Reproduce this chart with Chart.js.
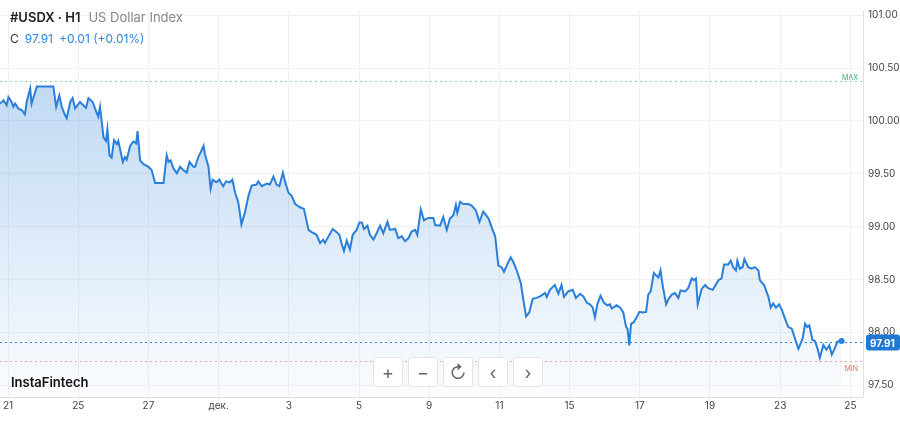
<!DOCTYPE html>
<html><head><meta charset="utf-8">
<script src="https://cdn.jsdelivr.net/npm/chart.js@4"></script>
<style>
html,body{margin:0;padding:0;background:#fff;font-family:Inter,"Noto Sans",sans-serif;}
#wrap{position:relative;width:900px;height:427px;}
.hdr{position:absolute;left:10px;top:9px;font-size:13px;color:#222;}
.hdr b{font-weight:600}
.hdr span{color:#888;margin-left:8px}
.sub{position:absolute;left:10px;top:31px;font-size:12px;color:#333}
.sub span{color:#2f86e0;margin-left:6px}
.brand{position:absolute;left:11px;top:374px;font-size:13px;font-weight:600;color:#111}
.tb{position:absolute;top:357px;left:373px;display:flex;gap:5px}
.tb div{width:30px;height:30px;border:1px solid #e4e4e4;border-radius:3px;background:#fff;color:#666;font-size:18px;display:flex;align-items:center;justify-content:center;box-sizing:border-box}
</style></head><body>
<div id="wrap"><canvas id="c" width="900" height="427"></canvas>
<div class="hdr"><b>#USDX · H1</b><span>US Dollar Index</span></div>
<div class="sub">C<span>97.91</span><span>+0.01 (+0.01%)</span></div>
<div class="brand">InstaFintech</div>
<div class="tb"><div>+</div><div>−</div><div>↻</div><div>‹</div><div>›</div></div>
</div>
<script>
const tickLabels=['21','25','27','дек.','3','5','9','11','15','17','19','23','25'];
const dayPos=[-0.23,-0.13,-0.04,0.01,0.10,0.15,0.20,0.29,0.39,0.48,0.53,0.63,0.67,0.82,1.29,1.37,1.46,1.53,1.62,1.67,1.77,1.84,1.91,2.05,2.22,2.29,2.41,2.53,2.57,2.62,2.72,2.79,2.83,2.89,2.95,3.02,3.10,3.14,3.27,3.33,3.38,3.48,3.57,3.65,3.69,3.76,3.86,4.00,4.09,4.19,4.43,4.52,4.57,4.63,4.71,4.81,4.90,4.99,5.09,5.17,5.28,5.33,5.42,5.49,5.57,5.61,5.71,5.77,5.83,5.93,6.02,6.07,6.13,6.21,6.32,6.39,6.47,6.56,6.65,6.75,6.85,6.94,7.08,7.13,7.23,7.37,7.46,7.56,7.65,7.73,7.83,7.89,7.99,8.08,8.18,8.32,8.43,8.56,8.65,8.79,8.89,8.98,9.03,9.13,9.25,9.36,9.44,9.51,9.57,9.65,9.74,9.82,9.93,10.01,10.08,10.14,10.24,10.31,10.41,10.50,10.60,10.69,10.81,10.88,11.03,11.12,11.22,11.31,11.41,11.50,11.60,11.66,11.76,11.85,11.97,12.12,12.17,12.31,12.40,12.50,12.59,12.69,12.76,12.80,12.88,12.97,13.11,13.21,13.33,13.43,13.54,13.69,13.83,13.88,13.97,14.06,14.13,14.23,14.32,14.40,14.51,14.61,14.68,14.76,14.85,14.95,15.06,15.16,15.30,15.35,15.44,15.58,15.68,15.77,15.84,15.96,16.09,16.18,16.30,16.39,16.49,16.58,16.66,16.72,16.79,16.88,16.98,17.07,17.15,17.20,17.34,17.44,17.53,17.61,17.65,17.70,17.75,17.83,17.91,17.99,18.08,18.18,18.24,18.31,18.40,18.46,18.53,18.59,18.65,18.75,18.81,18.91,19.00,19.10,19.16,19.29,19.38,19.48,19.54,19.60,19.65,19.76,19.86,19.95,20.08,20.24,20.33,20.40,20.52,20.59,20.66,20.74,20.78,20.85,20.93,20.98,21.09,21.19,21.28,21.38,21.42,21.54,21.66,21.73,21.80,21.88,21.97,22.04,22.14,22.23,22.33,22.42,22.52,22.64,22.71,22.77,22.83,22.92,22.99,23.06,23.13,23.23,23.32,23.40,23.47,23.56,23.63,23.75];
const prices=[100.165,100.195,100.149,100.226,100.180,100.134,100.165,100.119,100.103,100.063,100.180,100.308,100.165,100.327,100.327,100.134,100.241,100.134,100.057,100.027,100.180,100.217,100.119,100.180,100.125,100.217,100.180,100.073,100.042,100.134,99.843,99.812,99.920,99.675,99.653,99.819,99.782,99.812,99.613,99.659,99.635,99.766,99.806,99.788,99.904,99.628,99.592,99.567,99.537,99.414,99.414,99.675,99.613,99.628,99.552,99.506,99.567,99.537,99.512,99.613,99.567,99.567,99.659,99.705,99.766,99.684,99.567,99.359,99.445,99.420,99.445,99.414,99.383,99.429,99.420,99.445,99.322,99.230,99.022,99.138,99.292,99.390,99.399,99.429,99.383,99.408,99.399,99.475,99.399,99.383,99.512,99.429,99.322,99.292,99.215,99.184,99.169,98.970,98.949,98.924,98.847,98.878,98.847,98.909,98.979,98.949,98.924,98.832,98.771,98.869,98.786,98.924,98.970,99.040,99.040,98.979,99.010,98.924,98.878,98.939,99.010,98.939,99.046,98.970,98.979,98.893,98.909,98.863,98.893,98.955,98.970,98.924,99.163,99.062,99.083,99.083,99.016,99.010,99.092,98.970,99.077,99.108,99.206,99.132,99.236,99.215,99.215,99.200,99.154,99.046,99.144,99.077,98.949,98.909,98.633,98.618,98.572,98.649,98.710,98.664,98.572,98.465,98.312,98.152,98.189,98.318,98.327,98.342,98.373,98.336,98.404,98.450,98.367,98.450,98.336,98.388,98.404,98.327,98.365,98.342,98.281,98.266,98.235,98.143,98.266,98.348,98.281,98.257,98.266,98.226,98.257,98.235,98.189,98.051,98.036,97.877,98.082,98.097,98.143,98.195,98.189,98.195,98.358,98.388,98.563,98.541,98.520,98.587,98.449,98.266,98.312,98.358,98.373,98.327,98.397,98.388,98.419,98.511,98.495,98.511,98.266,98.410,98.449,98.419,98.403,98.495,98.511,98.642,98.642,98.679,98.618,98.587,98.679,98.603,98.618,98.694,98.618,98.603,98.618,98.587,98.495,98.449,98.342,98.235,98.275,98.235,98.266,98.220,98.128,98.051,98.036,97.944,97.846,97.944,98.082,98.051,98.067,97.929,97.920,97.852,97.761,97.883,97.837,97.877,97.791,97.852,97.913,97.920];
const yTicks=[97.5,98,98.5,99,99.5,100,100.5,101];
const maxLevel=100.38, minLevel=97.73, lastPrice=97.91;

const pts=dayPos.map((d,i)=>({x:d,y:prices[i]}));
const overlay={id:'ov',afterDatasetsDraw(ch){
  const c=ch.ctx,a=ch.chartArea,y=ch.scales.y;
  function dl(v,col){const py=Math.round(y.getPixelForValue(v))+0.5;c.save();c.strokeStyle=col;c.setLineDash([2,3]);c.lineWidth=1;c.beginPath();c.moveTo(a.left,py);c.lineTo(a.right,py);c.stroke();c.restore();return py;}
  let p=dl(maxLevel,'#8fd0b0');c.font='7px Inter';c.fillStyle='#3dae6e';c.textAlign='right';c.fillText('MAX',a.right-5,p-2);
  p=dl(minLevel,'#f3a5a5');c.fillStyle='#e57373';c.fillText('MIN',a.right-5,p+9);
  p=dl(lastPrice,'#2f86e0');
  const last=ch.getDatasetMeta(0).data.at(-1);
  c.fillStyle='#2a7fd9';c.beginPath();c.arc(last.x,last.y,3,0,Math.PI*2);c.fill();
  c.fillStyle='#1f78d1';c.beginPath();c.roundRect(a.right+3,p-8,34,16,3);c.fill();
  c.fillStyle='#fff';c.font='bold 10px Inter';c.textAlign='left';c.fillText('97.91',a.right+7,p+4);
}};
new Chart(document.getElementById('c'),{type:'line',
 data:{datasets:[{data:pts,borderColor:'#2a7fd9',borderWidth:2,pointRadius:0,tension:0,fill:'origin',
  backgroundColor(ctx){const a=ctx.chart.chartArea;if(!a)return 'rgba(42,127,217,0.2)';const g=ctx.chart.ctx.createLinearGradient(0,a.top,0,a.bottom);g.addColorStop(0,'rgba(42,127,217,0.36)');g.addColorStop(1,'rgba(42,127,217,0.02)');return g;}}]},
 options:{responsive:false,animation:false,layout:{padding:{top:-16,right:0,left:0,bottom:0}},
  plugins:{legend:{display:false},tooltip:{enabled:false}},
  scales:{
   x:{type:'linear',min:-0.23,max:24.36,afterBuildTicks(s){s.ticks=tickLabels.map((_,i)=>({value:i*2}));},
      ticks:{autoSkip:false,maxRotation:0,color:'#444',font:{size:10,family:'Inter'},callback:(v)=>tickLabels[v/2]},
      grid:{color:'#f1f1f1',drawTicks:false},border:{color:'#e0e0e0'},afterFit(s){s.height=30;}},
   y:{position:'right',min:97.39,max:101.04,afterBuildTicks(s){s.ticks=yTicks.map(v=>({value:v}));},
      ticks:{color:'#444',font:{size:10,family:'Inter'},padding:5,callback:v=>v.toFixed(2)},
      grid:{color:'#f1f1f1',drawTicks:false},border:{color:'#e0e0e0'},afterFit(s){s.width=37;}}
  }},plugins:[overlay]});
</script></body></html>
